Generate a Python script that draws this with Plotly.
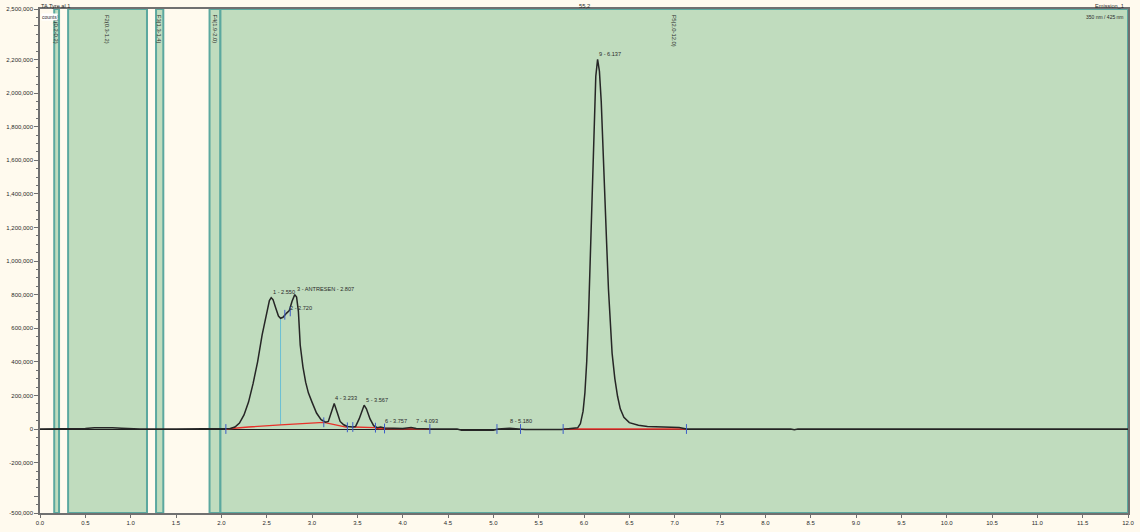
import plotly.graph_objects as go

# ---------------- data ----------------
# chromatogram signal (time in min, counts)
time_min = [0.00, 0.40, 0.50, 0.60, 0.70, 0.80, 0.90, 1.00, 1.10, 1.50, 2.00, 2.05,
            2.10, 2.15, 2.20, 2.25, 2.30, 2.35, 2.40, 2.45, 2.50, 2.53, 2.55, 2.57,
            2.60, 2.63, 2.653, 2.68, 2.72, 2.75, 2.78, 2.80, 2.81, 2.83, 2.85, 2.87,
            2.90, 2.93, 2.96, 3.00, 3.05, 3.10, 3.15, 3.18, 3.21, 3.245, 3.28, 3.31,
            3.35, 3.39, 3.45, 3.48, 3.52, 3.56, 3.575, 3.60, 3.64, 3.68, 3.72, 3.757,
            3.80, 4.00, 4.05, 4.093, 4.15, 4.30, 4.60, 4.65, 5.00, 5.05, 5.18, 5.30,
            5.35, 5.75, 5.80, 5.88, 5.93, 5.96, 5.99, 6.01, 6.03, 6.05, 6.07, 6.09,
            6.11, 6.13, 6.15, 6.17, 6.19, 6.21, 6.23, 6.25, 6.27, 6.29, 6.31, 6.34,
            6.37, 6.40, 6.44, 6.50, 6.60, 6.70, 6.90, 7.05, 7.13, 8.28, 8.32, 8.36, 12.00]
signal = [0, 0, 3000, 8000, 10000, 8000, 5000, 1000, 0, 0, 0, 0,
          3000, 12000, 35000, 84000, 160000, 270000, 400000, 560000, 700000, 765000, 782000, 770000,
          720000, 672000, 659000, 665000, 690000, 705000, 760000, 795000, 800000, 785000, 700000, 500000,
          370000, 279000, 215000, 160000, 95000, 55000, 40000, 45000, 90000, 152000, 95000, 45000,
          25000, 15000, 12000, 15000, 60000, 130000, 142000, 120000, 60000, 20000, 8000, 12000,
          6000, 3000, 4000, 9000, 3000, 0, 0, -8000, -8000, 0, 4000, 0,
          -3000, -3000, 0, 2000, 7000, 31000, 106000, 216000, 400000, 674000, 1030000, 1440000,
          1820000, 2100000, 2200000, 2130000, 1950000, 1700000, 1400000, 1100000, 830000, 610000, 450000, 300000,
          195000, 120000, 70000, 38000, 22000, 15000, 11000, 9000, 0, 0, -5000, 0, 0]

# integration baselines (red)
base_t = [2.05, 2.30, 2.653, 2.90, 3.13, 3.39, None, 3.45, 3.70, None, 3.70, 4.30, None, 5.77, 7.13]
base_v = [0, 12000, 24000, 33000, 40000, 10000, None, 12000, 8000, None, 3000, 0, None, 0, 0]

# peak table
peak_labels = ["1 - 2.550", "2 - 2.720", "3 - ANTRESEN - 2.807", "4 - 3.233", "5 - 3.567",
               "6 - 3.757", "7 - 4.093", "8 - 5.180", "9 - 6.137"]
peak_times = [2.55, 2.73, 2.81, 3.23, 3.57, 3.78, 4.12, 5.16, 6.147]
peak_heights = [785000, 690000, 805000, 155000, 145000, 20000, 20000, 18000, 2200000]

# peak delimiter ticks
delim_t = [2.05, 2.70, 2.76, 3.13, 3.39, 3.45, 3.70, 3.80, 4.30, 5.04, 5.30, 5.77, 7.13]
delim_v = [0, 680000, 700000, 40000, 10000, 12000, 8000, 3000, 0, 0, 0, 0, 0]

# drop line between peaks 1 and 3
drop_t = [2.653, 2.653]
drop_v = [24000, 659000]

# fractions (timed bands)
frac_names = ["F1(0.2-0.2)", "F2(0.3-1.2)", "F3(1.3-1.4)", "F4(1.9-2.0)", "F5(2.0-12.0)"]
frac_start = [0.157, 0.31, 1.28, 1.87, 1.99]
frac_end = [0.21, 1.18, 1.36, 1.99, 12.0]

# axes ticks
x_ticks = [i * 0.5 for i in range(25)]
x_ticktext = ["%.1f" % v for v in x_ticks]
y_ticks = [-500000, -400000, -200000, 0, 200000, 400000, 600000, 800000, 1000000, 1200000,
           1400000, 1600000, 1800000, 2000000, 2200000, 2400000, 2500000]
y_ticktext = ["-500,000", "", "-200,000", "0", "200,000", "400,000", "600,000", "800,000",
              "1,000,000", "1,200,000", "1,400,000", "1,600,000", "1,800,000", "2,000,000",
              "2,200,000", "", "2,500,000"]

# ---------------- figure ----------------
CREAM = "#FFFAEE"
BAND = "#C0DCBE"
EDGE = "#5BA89F"
FONT = "Liberation Sans"
TXT = "#2A2A2A"

fig = go.Figure()

for s, e in zip(frac_start, frac_end):
    fig.add_shape(type="rect", xref="x", yref="paper", x0=s, x1=e, y0=0, y1=1,
                  fillcolor=BAND, line=dict(color=EDGE, width=2), layer="below")
for s, e, n in zip(frac_start, frac_end, frac_names):
    fig.add_annotation(x=(s + e) / 2, y=0.992, xref="x", yref="paper", text=n,
                       textangle=90, showarrow=False, xanchor="center", yanchor="top",
                       font=dict(size=5.8, color=TXT, family=FONT))

fig.add_trace(go.Scatter(x=drop_t, y=drop_v, mode="lines",
                         line=dict(color="#6BBFD4", width=1), hoverinfo="skip"))
fig.add_trace(go.Scatter(x=base_t, y=base_v, mode="lines", connectgaps=False,
                         line=dict(color="#E8312A", width=1.3), hoverinfo="skip"))
fig.add_trace(go.Scatter(x=time_min, y=signal, mode="lines",
                         line=dict(color="#262626", width=1.5)))
fig.add_trace(go.Scatter(x=delim_t, y=delim_v, mode="markers",
                         marker=dict(symbol="line-ns", size=7,
                                     line=dict(color="#3C5CC8", width=1)),
                         hoverinfo="skip"))

for lab, t, h in zip(peak_labels, peak_times, peak_heights):
    fig.add_annotation(x=t, y=h, text=lab, showarrow=False, xanchor="left",
                       yanchor="bottom", font=dict(size=5.6, color=TXT, family=FONT))

# header texts
fig.add_annotation(x=0, y=1, xref="paper", yref="paper", text="TA Tyre al 1",
                   showarrow=False, xanchor="left", yanchor="middle", yshift=3,
                   font=dict(size=5.6, color=TXT, family=FONT), borderpad=0)
fig.add_annotation(x=0.001, y=0.992, xref="paper", yref="paper", text="counts",
                   showarrow=False, xanchor="left", yanchor="top", bgcolor="white",
                   font=dict(size=5, color=TXT, family=FONT), borderpad=0)
fig.add_annotation(x=0.5, y=1, xref="paper", yref="paper", text="55,2",
                   showarrow=False, xanchor="center", yanchor="middle", yshift=3,
                   font=dict(size=5.8, color=TXT, family=FONT), borderpad=0)
fig.add_annotation(x=0.997, y=1, xref="paper", yref="paper", text="Emission_1",
                   showarrow=False, xanchor="right", yanchor="middle", yshift=3,
                   font=dict(size=5.6, color=TXT, family=FONT), borderpad=0)
fig.add_annotation(x=0.997, y=0.993, xref="paper", yref="paper", text="350 nm / 425 nm",
                   showarrow=False, xanchor="right", yanchor="top",
                   font=dict(size=5, color=TXT, family=FONT), borderpad=0)

fig.update_layout(
    width=1140, height=532,
    margin=dict(l=39, r=9, t=6, b=15),
    paper_bgcolor=CREAM, plot_bgcolor=CREAM,
    showlegend=False,
    font=dict(family=FONT, size=6, color=TXT),
)
fig.update_xaxes(range=[0, 12], tickvals=x_ticks, ticktext=x_ticktext, showgrid=False,
                 zeroline=False, showline=True, linecolor="#707070", linewidth=1.5,
                 mirror=True, ticks="outside", ticklen=3, tickcolor="#707070",
                 tickfont=dict(size=6, family=FONT))
fig.update_yaxes(range=[-500000, 2500000], tickvals=y_ticks, ticktext=y_ticktext,
                 showgrid=False, zeroline=True, zerolinecolor="#1E1E1E", zerolinewidth=1,
                 showline=True, linecolor="#707070", linewidth=1.5, mirror=True,
                 ticks="outside", ticklen=4, tickcolor="#707070",
                 minor=dict(dtick=50000, ticks="outside", ticklen=2, tickcolor="#707070"),
                 tickfont=dict(size=6, family=FONT))

fig.write_html("out.html")
